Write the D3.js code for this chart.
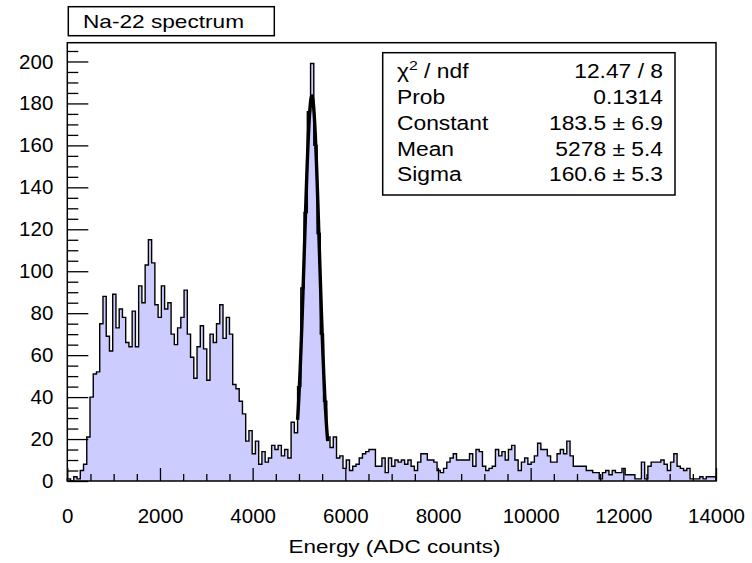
<!DOCTYPE html>
<html><head><meta charset="utf-8">
<script src="https://cdn.jsdelivr.net/npm/d3@7"></script>
<style>
body{margin:0;background:#fff}
svg{display:block;background:#fff}
text{font-family:"Liberation Sans",Arial,Helvetica,sans-serif;fill:#000}
</style>
</head><body>
<svg id="chart" width="752" height="563"></svg>
<script>
// ---- data ----
const binLow = 0;
const binWidth = 70;
const counts = [
  1,0,2,1,5,8,21,40,51,52,
  75,88,69,62,89,73,82,78,66,64,
  81,64,93,85,103,115,104,84,78,93,
  82,85,70,65,73,78,91,70,59,49,
  64,74,63,48,70,66,75,84,68,78,
  70,46,44,38,32,19,24,13,19,8,
  14,9,11,17,15,17,12,15,11,28,
  23,45,92,128,176,199,160,118,70,38,
  21,16,21,11,12,6,10,5,7,8,
  11,13,14,15,15,7,7,11,4,11,
  7,10,9,10,8,10,7,5,9,13,
  13,10,10,9,5,4,6,9,11,13,
  10,10,10,10,13,7,15,14,7,5,
  6,7,15,12,14,10,15,17,10,5,
  9,11,8,9,12,18,15,15,12,9,
  9,13,15,13,19,12,7,7,7,7,
  5,5,4,4,1,4,5,3,5,4,
  4,6,3,3,3,1,1,9,1,7,
  9,9,9,10,8,5,9,13,7,6,
  5,6,1,1,1,2,1,2,2,2
];
const xTickValues = [0,2000,4000,6000,8000,10000,12000,14000];
const xMinorStep = 500;
const yTickValues = [0,20,40,60,80,100,120,140,160,180,200];
const yMinorStep = 5;
const titleText = "Na-22 spectrum";
const xTitle = "Energy (ADC counts)";
const statLabels = ["ndf","Prob","Constant","Mean","Sigma"];
const statValues = ["12.47 / 8","0.1314","183.5 \u00b1 6.9","5278 \u00b1 5.4","160.6 \u00b1 5.3"];
// fit parameters as shown in the stats box
const fitConstant = 183.5, fitMean = 5278, fitSigma = 160.6;
const fitRange = [4970, 5620];

// ---- layout ----
const svg = d3.select("#chart");
const L = 67.3, R = 716, T = 42.7, B = 481;
const xMax = binLow + counts.length * binWidth;
const x = d3.scaleLinear().domain([binLow, xMax]).range([L, R]);
const y = d3.scaleLinear().domain([0, d3.max(counts) * 1.05]).range([B, T]);

// histogram points
const pts = [[binLow, 0]];
counts.forEach((c, i) => pts.push([binLow + i * binWidth, c]));
pts.push([xMax, 0]);

const area = d3.area().curve(d3.curveStepAfter)
  .x(d => x(d[0])).y0(y(0)).y1(d => y(d[1]));
const line = d3.line().curve(d3.curveStepAfter)
  .x(d => x(d[0])).y(d => y(d[1]));

svg.append("path").attr("d", area(pts)).attr("fill", "#ccccff").attr("stroke", "none");
svg.append("path").attr("d", line(pts)).attr("fill", "none")
  .attr("stroke", "#000").attr("stroke-width", 1.4).attr("stroke-linejoin", "miter");

// fit curve (from fit parameters)
const fitPts = d3.range(fitRange[0], fitRange[1] + 1, 5).map(e =>
  [e, fitConstant * Math.exp(-0.5 * Math.pow((e - fitMean) / fitSigma, 2))]);
svg.append("path")
  .attr("d", d3.line().x(d => x(d[0])).y(d => y(d[1]))(fitPts))
  .attr("fill", "none").attr("stroke", "#000").attr("stroke-width", 3.4);

// axes
const xMinor = d3.range(binLow, xMax + 1, xMinorStep).filter(v => !xTickValues.includes(v));
const yMinor = d3.range(0, y.domain()[1], yMinorStep).filter(v => !yTickValues.includes(v));
const fmt = d3.format("d");

const gx = svg.append("g").attr("transform", `translate(0,${B})`)
  .call(d3.axisBottom(x).tickValues(xTickValues).tickFormat(fmt).tickSizeInner(-13).tickSizeOuter(0).tickPadding(27));
const gxm = svg.append("g").attr("transform", `translate(0,${B})`)
  .call(d3.axisBottom(x).tickValues(xMinor).tickSizeInner(-7).tickSizeOuter(0).tickFormat(""));
const gy = svg.append("g").attr("transform", `translate(${L},0)`)
  .call(d3.axisLeft(y).tickValues(yTickValues).tickFormat(fmt).tickSizeInner(-21).tickSizeOuter(0).tickPadding(14));
const gym = svg.append("g").attr("transform", `translate(${L},0)`)
  .call(d3.axisLeft(y).tickValues(yMinor).tickSizeInner(-11).tickSizeOuter(0).tickFormat(""));

[gx, gxm, gy, gym].forEach(g => {
  g.select(".domain").remove();
  g.selectAll("line").attr("stroke", "#000").attr("stroke-width", 1.3);
  g.selectAll("text").attr("font-size", 20.5).attr("font-family", "'Liberation Sans',Arial,sans-serif").attr("fill", "#000");
});

// frame
svg.append("rect").attr("x", L).attr("y", T).attr("width", R - L).attr("height", B - T)
  .attr("fill", "none").attr("stroke", "#000").attr("stroke-width", 1.5);

// stretched text helper
function stext(xp, yp, str, size, sx, anchor) {
  return svg.append("text")
    .attr("transform", `translate(${xp},${yp}) scale(${sx},1)`)
    .attr("font-size", size).attr("text-anchor", anchor || "start").text(str);
}

// x title
stext(394.5, 553, xTitle, 19.2, 1.17, "middle");

// stats box
svg.append("rect").attr("x", 382.7).attr("y", 52.7).attr("width", 292.3).attr("height", 142.3)
  .attr("fill", "#fff").attr("stroke", "#000").attr("stroke-width", 1.5);
const baselines = [77.5, 103.5, 129.5, 155.5, 181];
statLabels.forEach((s, i) => {
  if (i === 0) {
    const t = svg.append("text")
      .attr("transform", `translate(397,${baselines[i]}) scale(1.17,1)`)
      .attr("font-size", 19.5);
    t.append("tspan").text("\u03c7");
    t.append("tspan").attr("dy", -8).attr("font-size", 13.5).text("2");
    t.append("tspan").attr("dy", 8).text(" / " + s);
  } else {
    stext(397, baselines[i], s, 19.5, 1.17, "start");
  }
  stext(663, baselines[i], statValues[i], 19.5, 1.17, "end");
});

// title box
svg.append("rect").attr("x", 68.3).attr("y", 6.7).attr("width", 206).attr("height", 29)
  .attr("fill", "#fff").attr("stroke", "#000").attr("stroke-width", 1.5);
stext(83, 27.5, titleText, 19.2, 1.18, "start");
</script>
</body></html>
